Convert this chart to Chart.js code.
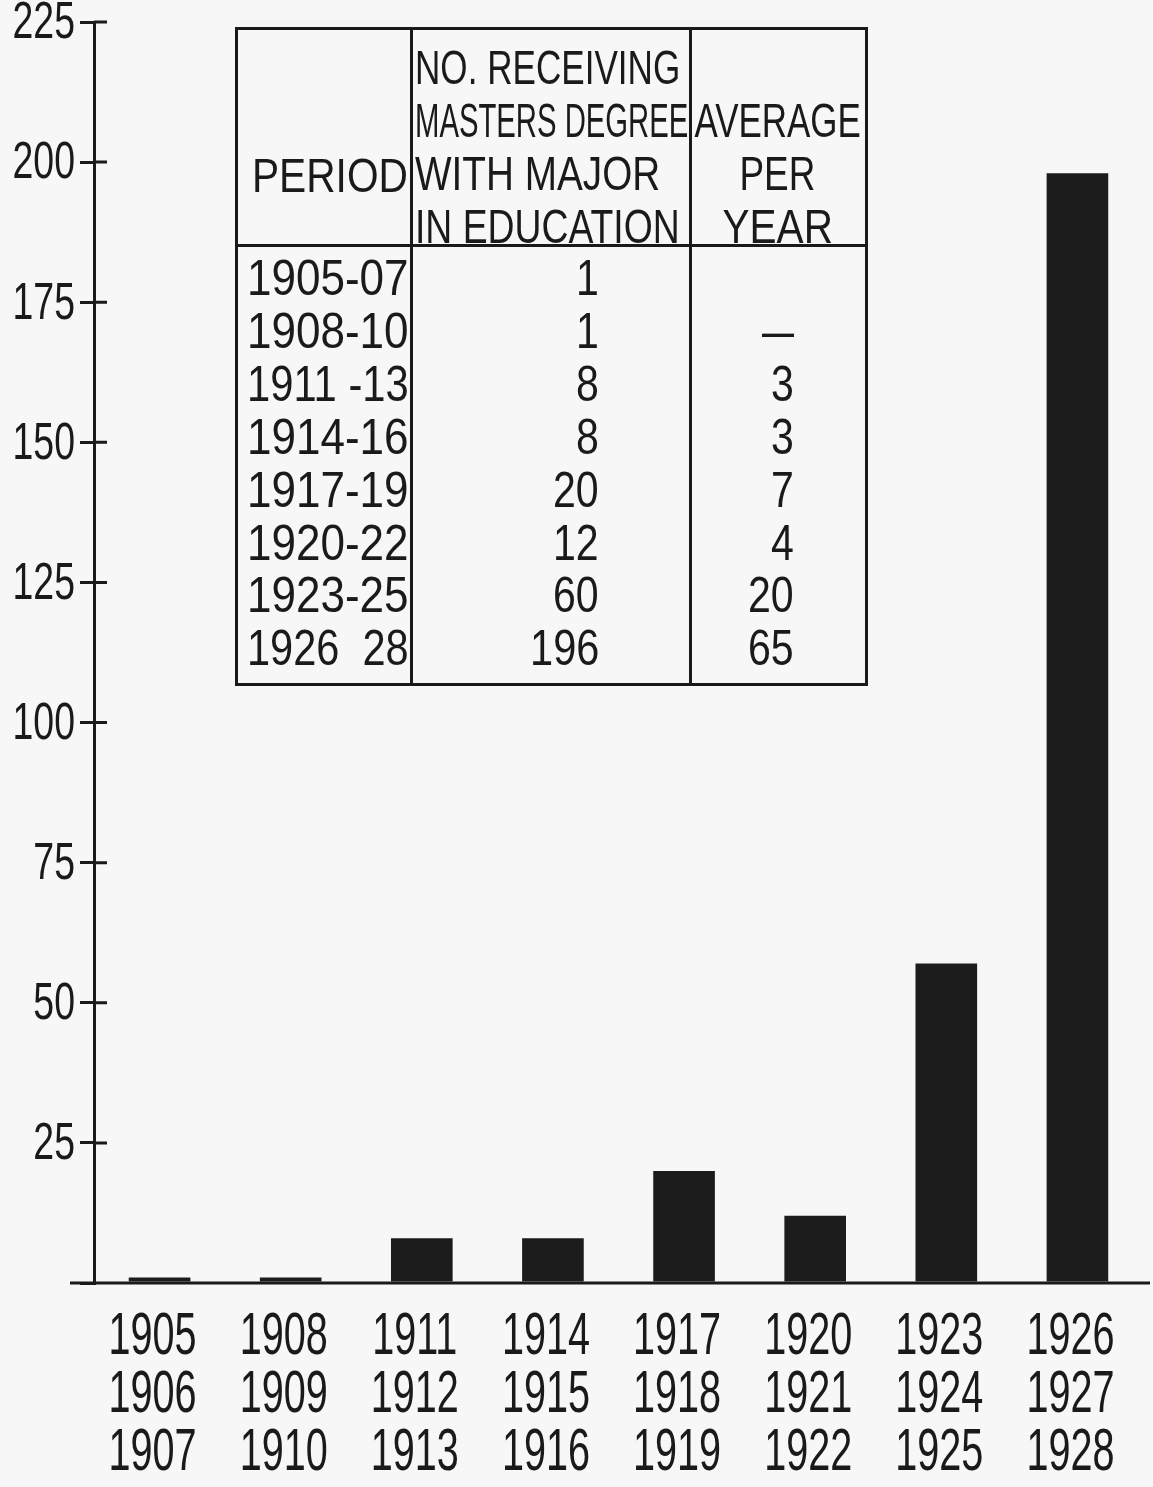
<!DOCTYPE html>
<html>
<head>
<meta charset="utf-8">
<script src="https://cdn.jsdelivr.net/npm/chart.js@4.4.0/dist/chart.umd.min.js"></script>
<style>
  html, body { margin: 0; padding: 0; background: #f7f7f7; }
  #wrap { position: relative; width: 1153px; height: 1487px; overflow: hidden; }
  #c { position: absolute; left: 0; top: 0; }
  .txt { position: absolute; white-space: pre; line-height: 1; color: #1a1a1a;
         font-family: 'Liberation Sans', sans-serif; }
  .rule { position: absolute; background: #1a1a1a; }
</style>
</head>
<body>
<div id="wrap">
  <canvas id="c" width="1153" height="1487"></canvas>
</div>
<script>
// bar chart data
const periodLabels = [
  ["1905", "1906", "1907"],
  ["1908", "1909", "1910"],
  ["1911", "1912", "1913"],
  ["1914", "1915", "1916"],
  ["1917", "1918", "1919"],
  ["1920", "1921", "1922"],
  ["1923", "1924", "1925"],
  ["1926", "1927", "1928"]
];
const barValues = [1, 1, 8, 8, 20, 12, 57, 198];
const yMax = 225;
const yStep = 25;

// inset table text
const tableHeadPeriod = "PERIOD";
const tableHeadCount = ["NO. RECEIVING", "MASTERS DEGREE", "WITH MAJOR", "IN EDUCATION"];
const tableHeadAverage = ["AVERAGE", "PER", "YEAR"];
const tablePeriods = ["1905-07", "1908-10", "1911 -13", "1914-16", "1917-19", "1920-22", "1923-25", "1926  28"];
const tableCounts = ["1", "1", "8", "8", "20", "12", "60", "196"];
const tableAverages = ["", "\u2014", "3", "3", "7", "4", "20", "65"];

const ink = '#1a1a1a';
const fontFamily = "'Liberation Sans', sans-serif";
const wrap = document.getElementById('wrap');

// place one piece of text, squeezed or stretched to a width if given
let placeText = function (text, x, yMid, align, size, width) {
  let el = document.createElement('span');
  el.className = 'txt';
  el.textContent = text;
  el.style.fontSize = size + 'px';
  el.style.top = (yMid - size / 2) + 'px';
  wrap.appendChild(el);
  let w = el.offsetWidth;
  let k = width ? width / w : 1;
  if (align == 'left') {
    el.style.left = x + 'px';
    el.style.transformOrigin = 'left center';
  } else if (align == 'right') {
    el.style.left = (x - w) + 'px';
    el.style.transformOrigin = 'right center';
  } else {
    el.style.left = (x - w / 2) + 'px';
    el.style.transformOrigin = 'center center';
  }
  el.style.transform = 'scaleX(' + k + ')';
};

let placeRule = function (x, y, w, h) {
  let el = document.createElement('div');
  el.className = 'rule';
  el.style.left = x + 'px';
  el.style.top = y + 'px';
  el.style.width = w + 'px';
  el.style.height = h + 'px';
  wrap.appendChild(el);
};

// draw the table box
let renderTable = function () {
  placeRule(235, 27, 633, 3);
  placeRule(235, 683, 633, 3);
  placeRule(235, 27, 3, 659);
  placeRule(865, 27, 3, 659);
  placeRule(410, 27, 3, 659);
  placeRule(689, 27, 3, 659);
  placeRule(235, 244, 633, 3);

  placeText(tableHeadPeriod, 252, 175, 'left', 49, 156);
  let countWidths = [265, 273, 245, 265];
  for (let i = 0; i < tableHeadCount.length; i++) {
    placeText(tableHeadCount[i], 415, 67 + i * 53, 'left', 49, countWidths[i]);
  }
  let avgWidths = [166, 76, 110];
  for (let i = 0; i < tableHeadAverage.length; i++) {
    placeText(tableHeadAverage[i], 777, 120 + i * 53, 'center', 49, avgWidths[i]);
  }
  for (let i = 0; i < tablePeriods.length; i++) {
    let y = 278 + i * 52.9;
    placeText(tablePeriods[i], 247, y, 'left', 50, 162);
    let cw = tableCounts[i].length * 23;
    placeText(tableCounts[i], 599, y, 'right', 50, cw);
    if (tableAverages[i]) {
      let aw = tableAverages[i] == '\u2014' ? 32 : tableAverages[i].length * 23;
      placeText(tableAverages[i], 794, y, 'right', 50, aw);
    }
  }
};

// narrow, hand-lettered looking tick labels, placed from the scales' own ticks,
// plus the x axis line that runs a bit past the y axis and tick stubs right of the y axis
const axisExtras = {
  id: 'axisExtras',
  afterDraw(chart) {
    const ctx = chart.ctx;
    const xs = chart.scales.x;
    const ys = chart.scales.y;
    const left = chart.chartArea.left;
    ctx.save();
    ctx.strokeStyle = ink;
    ctx.lineWidth = 3;
    ctx.beginPath();
    let y0 = ys.getPixelForValue(0);
    ctx.moveTo(70, y0);
    ctx.lineTo(1150, y0);
    ys.ticks.forEach(function (t) {
      if (t.value > 0) {
        let y = ys.getPixelForValue(t.value);
        ctx.moveTo(left, y);
        ctx.lineTo(left + 13, y);
      }
    });
    ctx.stroke();

    ctx.fillStyle = ink;
    ctx.textBaseline = 'middle';
    ctx.font = '60px ' + fontFamily;
    ctx.textAlign = 'center';
    xs.ticks.forEach(function (t, i) {
      let x = xs.getPixelForTick(i) - 7;
      let lines = [].concat(t.label);
      lines.forEach(function (line, j) {
        ctx.save();
        ctx.translate(x, xs.top + 54 + j * 58);
        ctx.scale(0.66, 1);
        ctx.fillText(line, 0, 0);
        ctx.restore();
      });
    });

    ctx.font = '52px ' + fontFamily;
    ctx.textAlign = 'right';
    ys.ticks.forEach(function (t) {
      if (!t.label) return;
      ctx.save();
      ctx.translate(left - 19, ys.getPixelForValue(t.value) + 2);
      ctx.scale(0.72, 1);
      ctx.fillText(t.label, 0, 0);
      ctx.restore();
    });
    ctx.restore();
  }
};

const config = {
  type: 'bar',
  data: {
    labels: periodLabels,
    datasets: [{
      data: barValues,
      backgroundColor: '#1c1c1c',
      borderWidth: 0,
      barPercentage: 0.47,
      categoryPercentage: 1
    }]
  },
  options: {
    responsive: false,
    animation: false,
    layout: { padding: { top: 22, right: 10, left: 0, bottom: 0 } },
    plugins: { legend: { display: false }, tooltip: { enabled: false } },
    scales: {
      x: {
        offset: true,
        grid: { display: false, drawTicks: false },
        border: { display: false },
        ticks: { display: false, autoSkip: false },
        afterFit: function (s) {
          s.height = 204;
          s.paddingLeft = 0;
          s.paddingRight = 0;
        }
      },
      y: {
        min: 0,
        max: yMax,
        grid: { drawOnChartArea: false, tickLength: 14, lineWidth: 3, color: ink },
        border: { display: true, width: 3, color: ink },
        ticks: {
          display: false,
          stepSize: yStep,
          callback: function (v) { return v == 0 ? '' : String(v); }
        },
        afterFit: function (s) {
          s.width = 94;
          s.paddingTop = 0;
          s.paddingBottom = 0;
        }
      }
    }
  },
  plugins: [axisExtras]
};

let mastersChart = new Chart(document.getElementById('c'), config);
renderTable();
</script>
</body>
</html>
